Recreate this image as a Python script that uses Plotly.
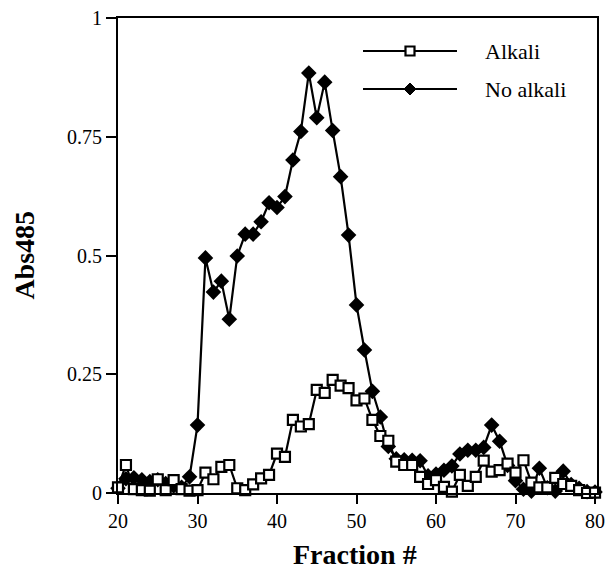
import plotly.graph_objects as go

fractions = list(range(20, 81))

alkali = [0.012, 0.059, 0.008, 0.006, 0.005, 0.029, 0.006, 0.027, 0.008, 0.005,
          0.006, 0.043, 0.029, 0.055, 0.059, 0.010, 0.006, 0.018, 0.031, 0.038,
          0.083, 0.076, 0.154, 0.140, 0.145, 0.217, 0.211, 0.238, 0.226, 0.221,
          0.195, 0.199, 0.154, 0.120, 0.110, 0.066, 0.059, 0.059, 0.034, 0.019,
          0.027, 0.013, 0.003, 0.038, 0.015, 0.034, 0.068, 0.045, 0.048, 0.062,
          0.043, 0.069, 0.022, 0.012, 0.012, 0.032, 0.019, 0.015, 0.006, 0.000,
          0.001]

no_alkali = [0.010, 0.030, 0.032, 0.028, 0.024, 0.028, 0.020, 0.015, 0.012, 0.034,
             0.143, 0.495, 0.423, 0.446, 0.366, 0.499, 0.545, 0.545, 0.571, 0.611,
             0.601, 0.624, 0.701, 0.761, 0.884, 0.790, 0.865, 0.763, 0.666, 0.543,
             0.396, 0.301, 0.214, 0.160, 0.098, 0.072, 0.070, 0.069, 0.068, 0.036,
             0.040, 0.048, 0.057, 0.082, 0.090, 0.090, 0.096, 0.143, 0.109, 0.058,
             0.026, 0.008, 0.004, 0.052, 0.011, 0.004, 0.046, 0.018, 0.010, 0.003,
             0.002]

x_ticks = [20, 30, 40, 50, 60, 70, 80]
y_ticks = [0, 0.25, 0.5, 0.75, 1]
y_tick_labels = ["0", "0.25", "0.5", "0.75", "1"]
series_names = ["Alkali", "No alkali"]

FONT = "Liberation Serif, Times New Roman, serif"

fig = go.Figure()
fig.add_trace(go.Scatter(
    x=fractions, y=no_alkali, mode="lines+markers", name=series_names[1],
    line=dict(color="black", width=2.2),
    marker=dict(symbol="diamond", size=12, color="black"),
    cliponaxis=False, showlegend=False))
fig.add_trace(go.Scatter(
    x=fractions, y=alkali, mode="lines+markers", name=series_names[0],
    line=dict(color="black", width=2.2),
    marker=dict(symbol="square", size=10, color="white",
                line=dict(color="black", width=2.2)),
    cliponaxis=False, showlegend=False))

# Legend drawn as decoration (inside the plot, top right)
leg_x0, leg_x1, leg_xm, leg_tx = 0.5115, 0.7077, 0.6096, 0.762
leg_y = [0.9305, 0.8505]
shapes = []
for yy in leg_y:
    shapes.append(dict(type="line", xref="paper", yref="paper",
                       x0=leg_x0, x1=leg_x1, y0=yy, y1=yy,
                       line=dict(color="black", width=2)))
shapes.append(dict(type="rect", xref="paper", yref="paper",
                   xsizemode="pixel", ysizemode="pixel",
                   xanchor=leg_xm, yanchor=leg_y[0],
                   x0=-4.5, x1=4.5, y0=-4.5, y1=4.5,
                   fillcolor="white", line=dict(color="black", width=2.2)))
shapes.append(dict(type="path", xref="paper", yref="paper",
                   xsizemode="pixel", ysizemode="pixel",
                   xanchor=leg_xm, yanchor=leg_y[1],
                   path="M -6 0 L 0 6 L 6 0 L 0 -6 Z",
                   fillcolor="black", line=dict(color="black", width=1)))

annotations = []
for name, yy in zip(series_names, leg_y):
    annotations.append(dict(text=name, xref="paper", yref="paper",
                            x=leg_tx, y=yy, xanchor="left", yanchor="middle",
                            showarrow=False,
                            font=dict(family=FONT, size=22, color="black")))
annotations.append(dict(text="<b>Fraction #</b>", xref="paper", yref="paper",
                        x=0.495, y=-0.13, xanchor="center", yanchor="middle",
                        showarrow=False,
                        font=dict(family=FONT, size=28, color="black")))
annotations.append(dict(text="<b>Abs485</b>", xref="paper", yref="paper",
                        x=-0.196, y=0.5, xanchor="center", yanchor="middle",
                        textangle=-90, showarrow=False,
                        font=dict(family=FONT, size=28, color="black")))

fig.update_layout(
    width=607, height=578,
    margin=dict(l=118, r=10, t=18, b=85, autoexpand=False),
    paper_bgcolor="white", plot_bgcolor="white",
    font=dict(family=FONT, size=20, color="black"),
    shapes=shapes, annotations=annotations,
    showlegend=False,
)
fig.update_xaxes(range=[20, 80.25], tickvals=x_ticks, ticks="outside",
                 ticklen=9, tickwidth=2, tickcolor="black",
                 showline=True, linecolor="black", linewidth=2, mirror=True,
                 showgrid=False, zeroline=False, automargin=False,
                 ticklabeloverflow="allow",
                 tickfont=dict(family=FONT, size=20, color="black"))
fig.update_yaxes(range=[0, 1], tickvals=y_ticks, ticktext=y_tick_labels,
                 ticks="outside", ticklen=10, tickwidth=2, tickcolor="black",
                 showline=True, linecolor="black", linewidth=2, mirror=True,
                 showgrid=False, zeroline=False, automargin=False,
                 ticklabeloverflow="allow",
                 tickfont=dict(family=FONT, size=20, color="black"))

# Remove the default page margin so the 607x578 figure fills the window.
fig.write_html(
    "out.html",
    config={"displayModeBar": False},
    post_script="document.body.style.margin='0';document.body.style.padding='0';"
                "document.documentElement.style.overflow='hidden';",
)
